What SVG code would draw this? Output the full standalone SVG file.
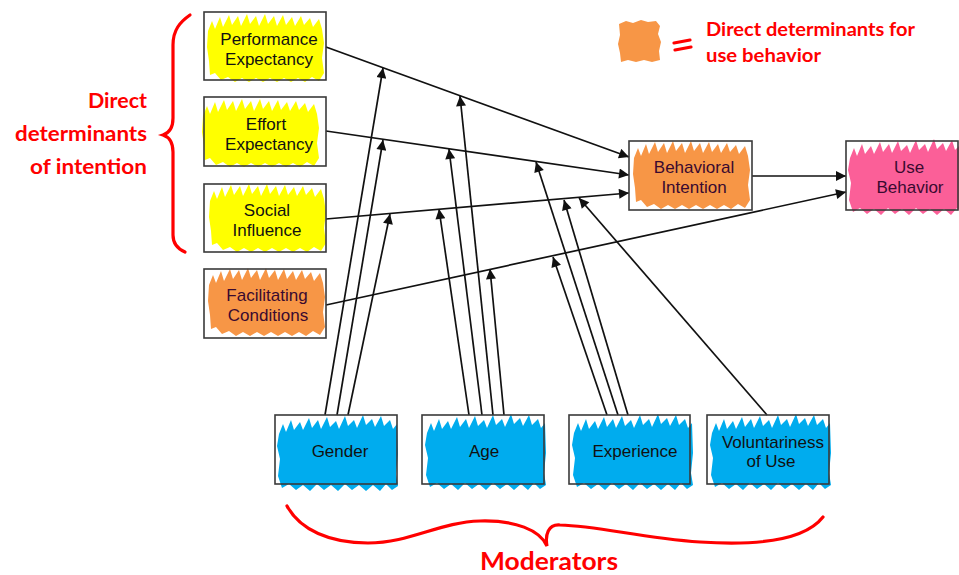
<svg xmlns="http://www.w3.org/2000/svg" width="959" height="575" viewBox="0 0 959 575">
<style>
.box{fill:none;stroke:#3a3a3a;stroke-width:1.6}
.lbl{font-family:"Liberation Sans",Arial,sans-serif;font-size:17px;fill:#111;text-anchor:middle}
.dk{fill:#3a0a30}
.red{font-family:Lato,"Open Sans",sans-serif;font-weight:bold;fill:#ff0000}
.con{stroke:#111;stroke-width:1.7;fill:none;marker-end:url(#ah)}
.brace{stroke:#ff0000;stroke-width:3.2;fill:none;stroke-linecap:round}
</style>
<defs>
<marker id="ah" viewBox="0 0 10 10" refX="10" refY="5" markerWidth="13" markerHeight="10" markerUnits="userSpaceOnUse" orient="auto">
<path d="M0,0 L10,5 L0,10 z" fill="#111"/>
</marker>
<path id="scrA" d="M4,18 L8,8 L11,16 L16,4 L19,14 L25,2 L28,12 L34,3 L37,13 L43,1 L46,11 L52,3 L55,13 L61,1 L64,11 L70,3 L73,13 L79,2 L82,12 L88,4 L91,13 L97,3 L100,12 L106,5 L109,14 L115,6 L118,16 L120,30 L118,45 L120,60 L115,68 L108,64 L101,69 L94,65 L87,69 L80,65 L73,69 L66,65 L59,69 L52,65 L45,69 L38,65 L31,69 L24,64 L17,67 L11,60 L6,62 L5,48 L3,34 Z"/>
<path id="scrB" d="M3,20 L7,10 L10,18 L15,6 L18,16 L24,8 L27,16 L33,4 L36,14 L42,6 L45,15 L51,3 L54,13 L60,7 L63,15 L69,2 L72,12 L78,6 L81,14 L87,1 L90,11 L96,5 L99,13 L105,2 L108,12 L114,6 L117,15 L121,10 L122,40 L120,60 L122,72 L116,76 L110,70 L104,77 L97,71 L90,77 L83,71 L76,76 L69,70 L62,77 L55,71 L48,76 L41,70 L34,77 L27,71 L20,76 L13,70 L6,74 L2,62 L4,45 L1,32 Z"/>
</defs>
<rect width="959" height="575" fill="#ffffff"/>

<g id="connectors">
<line class="con" x1="326" y1="47" x2="629" y2="157"/>
<line class="con" x1="326" y1="131" x2="629" y2="175"/>
<line class="con" x1="326" y1="219" x2="629" y2="193"/>
<line class="con" x1="326" y1="305" x2="846" y2="192"/>
<line class="con" x1="752" y1="176" x2="846" y2="176"/>
<line class="con" x1="325" y1="415" x2="383" y2="68"/>
<line class="con" x1="337" y1="415" x2="383" y2="140"/>
<line class="con" x1="348" y1="415" x2="390" y2="214"/>
<line class="con" x1="469" y1="415" x2="439" y2="209"/>
<line class="con" x1="482" y1="415" x2="449" y2="149"/>
<line class="con" x1="493" y1="415" x2="460" y2="96"/>
<line class="con" x1="504" y1="415" x2="490" y2="269"/>
<line class="con" x1="607" y1="415" x2="553" y2="257"/>
<line class="con" x1="618" y1="415" x2="536" y2="162"/>
<line class="con" x1="628" y1="415" x2="564" y2="200"/>
<line class="con" x1="767" y1="415" x2="579" y2="198"/>
</g>

<g id="performance-expectancy">
<use href="#scrA" transform="translate(204,13)" fill="#ffff00"/>
<rect class="box" x="204" y="12" width="122" height="68"/>
<text class="lbl" x="269" y="45">Performance</text>
<text class="lbl" x="269" y="65">Expectancy</text>
</g>
<g id="effort-expectancy">
<use href="#scrA" transform="translate(199,98)" fill="#ffff00"/>
<rect class="box" x="204" y="97" width="122" height="69"/>
<text class="lbl" x="266" y="130">Effort</text>
<text class="lbl" x="269" y="150">Expectancy</text>
</g>
<g id="social-influence">
<use href="#scrA" transform="translate(206,183)" fill="#ffff00"/>
<rect class="box" x="204" y="184" width="122" height="68"/>
<text class="lbl" x="267" y="216">Social</text>
<text class="lbl" x="267" y="236">Influence</text>
</g>
<g id="facilitating-conditions">
<use href="#scrA" transform="translate(205,267)" fill="#f79646"/>
<rect class="box" x="204" y="269" width="122" height="69"/>
<text class="lbl dk" x="267" y="301">Facilitating</text>
<text class="lbl dk" x="268" y="321">Conditions</text>
</g>
<g id="behavioral-intention">
<use href="#scrA" transform="translate(630,140)" fill="#f79646"/>
<rect class="box" x="629" y="141" width="123" height="69"/>
<text class="lbl dk" x="694" y="173">Behavioral</text>
<text class="lbl dk" x="694" y="193">Intention</text>
</g>
<g id="use-behavior">
<use href="#scrB" transform="translate(847,138)" fill="#fb5f98"/>
<rect class="box" x="846" y="141" width="112" height="69"/>
<text class="lbl dk" x="909" y="173">Use</text>
<text class="lbl dk" x="910" y="193">Behavior</text>
</g>
<g id="gender">
<use href="#scrB" transform="translate(276,414)" fill="#00acee"/>
<rect class="box" x="275" y="415" width="122" height="69"/>
<text class="lbl" x="340" y="457">Gender</text>
</g>
<g id="age">
<use href="#scrB" transform="translate(424,413)" fill="#00acee"/>
<rect class="box" x="422" y="415" width="122" height="69"/>
<text class="lbl" x="484" y="457">Age</text>
</g>
<g id="experience">
<use href="#scrB" transform="translate(571,413)" fill="#00acee"/>
<rect class="box" x="569" y="415" width="121" height="69"/>
<text class="lbl" x="635" y="457">Experience</text>
</g>
<g id="voluntariness-of-use">
<use href="#scrB" transform="translate(709,413)" fill="#00acee"/>
<rect class="box" x="707" y="415" width="122" height="69"/>
<text class="lbl" x="773" y="448">Voluntariness</text>
<text class="lbl" x="771" y="467">of Use</text>
</g>

<g id="legend">
<path d="M619,24 L626,21 L633,23 L641,20 L648,22 L656,21 L660,26 L658,34 L661,42 L659,51 L660,60 L652,62 L644,60 L636,62 L628,60 L621,62 L620,53 L618,44 L620,35 Z" fill="#f79646"/>
<path class="brace" d="M674,43 L690,40 M675,50 L691,47"/>
<text class="red" x="706" y="36" font-size="19" textLength="209" lengthAdjust="spacingAndGlyphs">Direct determinants for</text>
<text class="red" x="706" y="62" font-size="19" textLength="115" lengthAdjust="spacingAndGlyphs">use behavior</text>
</g>

<g id="intention-brace">
<path class="brace" d="M190,15 C180,22 173,30 173,45 L173,118 C173,128 169,133 163,135 C169,137 173,142 173,152 L173,235 C173,244 178,249 185,252"/>
<text class="red" x="147" y="108" font-size="20" text-anchor="end" textLength="59" lengthAdjust="spacingAndGlyphs">Direct</text>
<text class="red" x="147" y="141" font-size="20" text-anchor="end" textLength="132" lengthAdjust="spacingAndGlyphs">determinants</text>
<text class="red" x="147" y="174" font-size="20" text-anchor="end" textLength="117" lengthAdjust="spacingAndGlyphs">of intention</text>
</g>

<g id="moderators-brace">
<path class="brace" d="M287,506 C300,530 330,543 368,543 C410,543 440,522 480,521 C515,520 540,530 547,546 C545,535 548,524 560,525 C600,526 640,538 700,542 C760,546 805,540 823,517"/>
<text class="red" x="480" y="570" font-size="24" textLength="138" lengthAdjust="spacingAndGlyphs">Moderators</text>
</g>
</svg>
